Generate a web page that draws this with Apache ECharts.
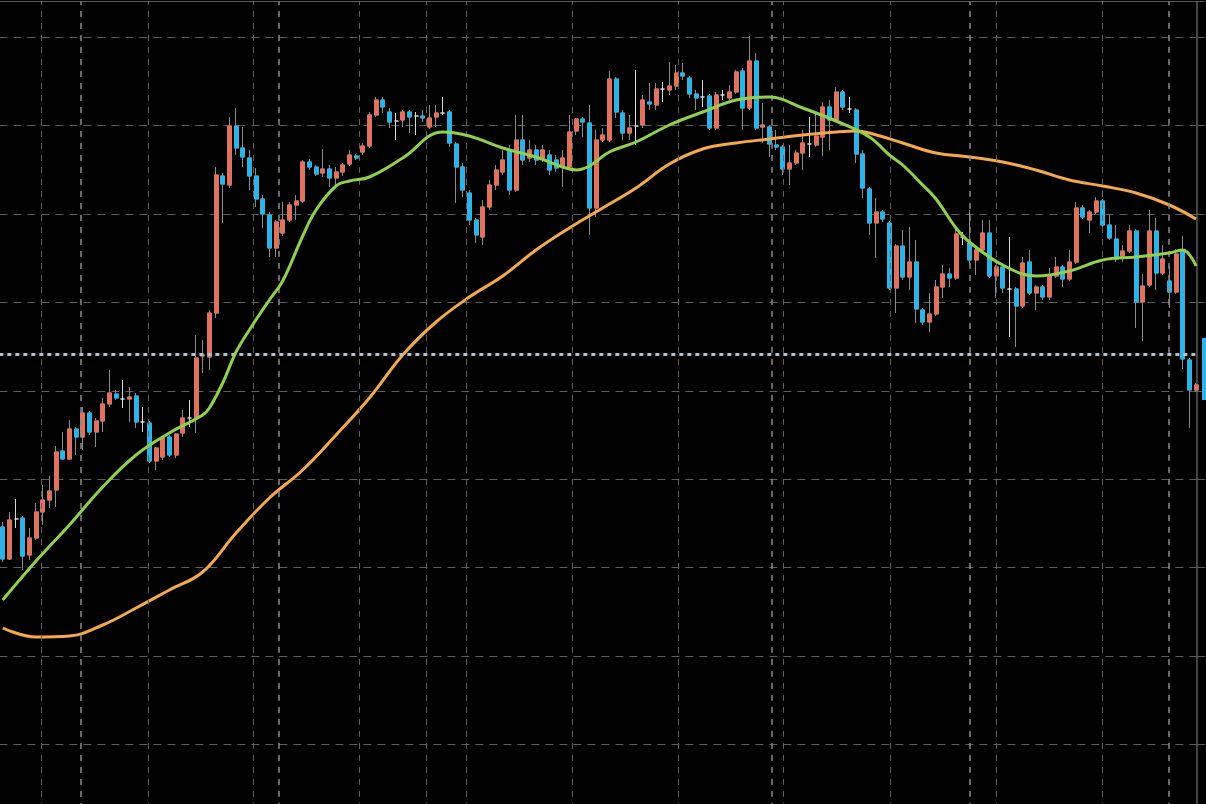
<!DOCTYPE html>
<html><head><meta charset="utf-8">
<script src="https://cdn.jsdelivr.net/npm/echarts@6/dist/echarts.min.js"></script>
<style>html,body{margin:0;padding:0;background:#000;}#c{width:1206px;height:804px;}</style>
</head><body><div id="c"></div><script>
const opens=[145.51,142.31,146.31,146.41,142.71,144.41,147.01,148.21,149.21,153.11,152.31,155.31,154.51,156.91,155.01,156.11,157.81,158.81,158.31,158.31,
158.61,156.01,155.91,152.11,152.51,154.51,152.71,154.91,156.41,156.41,162.61,162.51,166.91,180.61,179.71,185.61,183.41,182.41,180.61,178.31,
176.71,173.41,174.91,176.21,177.71,178.11,182.01,181.51,180.91,181.31,180.41,181.01,181.81,182.61,183.01,183.61,186.71,188.21,187.01,186.11,
186.21,187.01,186.61,186.61,185.51,186.51,186.91,187.01,183.81,181.51,178.91,176.21,174.51,177.51,179.71,181.01,183.21,179.21,184.21,182.41,
183.21,182.41,182.71,182.21,181.61,181.51,185.11,186.31,185.91,177.41,184.21,184.21,190.31,186.91,184.91,185.61,185.71,188.01,187.71,189.31,
189.21,189.61,190.91,190.41,188.81,188.51,188.61,185.41,188.71,188.41,189.01,191.11,187.41,192.11,185.51,185.51,183.71,183.51,181.31,181.91,
182.91,183.81,183.71,184.51,187.51,186.21,189.01,187.31,187.21,182.81,179.31,175.91,177.01,175.91,169.41,173.61,170.51,172.01,167.21,166.01,
166.81,169.51,170.81,170.41,174.51,173.91,172.21,173.21,174.91,170.61,171.51,169.31,169.31,167.61,172.01,168.91,169.51,168.51,170.61,171.51,
170.31,172.01,177.41,176.21,177.01,178.11,175.71,174.31,172.61,173.11,175.11,168.01,169.71,175.11,170.91,170.11,169.01,173.11,162.21,159.21];
const closes=[142.31,146.21,146.31,142.61,144.41,147.01,148.21,149.11,153.01,152.31,155.31,154.51,156.91,155.01,156.11,157.81,158.91,158.41,158.31,158.51,
156.01,156.01,152.11,153.41,154.41,152.71,154.81,156.41,156.41,162.41,162.71,166.91,180.71,179.81,185.61,183.41,182.51,180.61,178.31,176.81,
173.41,176.01,176.21,177.71,178.11,182.01,181.51,180.81,181.31,180.41,181.01,181.71,182.71,182.41,183.61,186.71,188.21,187.51,186.01,186.11,
187.01,186.51,186.61,186.41,186.41,186.91,186.91,183.91,181.51,179.21,176.21,174.71,177.51,179.71,181.21,182.21,179.21,184.21,182.21,183.21,
182.21,183.21,181.21,181.41,182.41,185.01,186.31,186.01,177.41,184.21,184.71,190.31,187.01,184.91,185.41,185.61,188.21,187.81,189.31,189.31,
189.61,190.91,190.61,188.81,188.41,188.51,185.41,188.71,188.71,189.01,191.01,187.41,192.11,185.41,185.71,183.81,183.51,181.31,181.91,182.91,
183.91,183.81,184.61,187.51,186.21,189.01,187.51,187.31,182.81,179.41,175.91,177.01,176.31,169.41,173.61,170.51,172.01,167.31,166.01,166.81,
169.51,170.81,170.41,174.81,174.51,172.21,173.21,174.91,170.61,171.51,169.41,169.31,167.61,171.91,168.91,169.51,168.51,170.61,171.51,170.31,
172.01,177.41,176.51,177.01,178.11,175.71,174.41,172.31,173.11,175.11,168.01,169.61,175.11,170.91,172.31,169.01,172.81,162.31,159.21,159.71];
const lows=[142.01,142.21,145.41,141.21,142.21,144.21,145.71,147.41,147.51,152.21,152.21,152.71,153.21,154.71,153.51,155.01,157.51,158.21,157.41,156.01,
155.41,155.01,151.91,151.21,152.21,152.51,152.41,154.51,155.51,154.91,160.91,161.21,166.41,175.91,179.41,182.71,181.51,179.21,177.51,175.41,
172.51,172.51,174.61,176.01,176.21,177.91,181.21,180.61,180.51,179.51,179.71,180.61,181.61,182.21,182.71,183.41,186.51,186.91,185.41,184.21,
185.51,184.91,184.71,186.01,185.31,185.51,186.71,183.51,177.91,178.51,175.71,173.91,173.71,177.21,179.21,180.71,178.71,179.01,181.71,182.01,
181.71,182.01,180.71,181.01,179.51,181.21,184.71,184.51,174.71,176.51,184.01,184.01,186.41,184.21,184.21,183.71,185.41,187.21,187.21,188.01,
188.71,189.21,190.21,188.41,187.21,187.51,185.21,185.21,188.21,188.21,188.81,185.21,187.21,185.21,183.91,182.51,183.21,180.71,179.71,181.71,
181.21,182.51,183.51,182.61,183.21,186.01,187.21,186.91,181.91,178.41,174.71,172.41,176.01,169.21,166.91,170.21,169.21,165.91,165.71,165.01,
166.61,168.41,169.51,170.21,173.71,171.71,170.71,173.01,170.41,168.41,168.91,164.51,163.51,167.41,168.71,167.21,168.21,168.21,170.41,169.51,
170.11,171.81,176.31,174.91,176.81,175.41,174.21,172.01,172.01,172.91,165.41,164.11,169.51,169.21,170.71,167.41,168.81,161.31,155.41,159.01];
const highs=[146.01,147.01,148.31,146.61,145.41,147.91,149.71,150.61,153.61,155.01,156.21,155.51,157.51,157.11,156.41,158.41,161.21,159.21,160.21,159.51,
158.91,157.51,156.11,153.51,154.51,154.71,154.91,157.21,158.21,164.71,164.21,167.21,181.51,180.91,186.51,187.41,185.51,183.21,181.41,178.71,
177.01,176.21,178.01,178.01,178.71,182.21,182.31,181.71,183.31,181.71,181.51,181.91,183.21,182.81,183.91,187.01,188.51,188.51,187.41,186.91,
187.21,187.21,187.01,187.21,187.71,187.71,188.51,187.21,184.01,181.91,179.21,176.41,178.21,180.21,181.71,183.21,183.71,186.71,186.71,184.21,
183.71,183.71,183.21,182.71,183.21,186.71,186.41,186.51,187.71,185.21,185.41,191.11,190.51,187.21,186.71,191.21,188.71,189.91,189.91,190.01,
192.01,191.71,191.91,190.61,189.21,190.21,188.81,189.01,189.21,189.71,191.21,191.41,194.61,192.91,187.91,185.71,185.21,183.71,183.71,183.21,
185.21,186.51,186.91,188.01,188.21,189.51,189.21,188.51,187.41,183.21,179.51,178.41,177.21,176.11,173.81,175.21,175.51,174.21,167.41,168.91,
170.21,171.71,171.41,175.31,175.01,177.21,173.41,176.21,176.21,171.71,171.71,174.51,169.51,172.51,173.21,169.71,169.71,171.41,172.51,171.71,
173.21,178.01,177.71,177.21,178.51,178.31,176.71,175.71,173.71,175.71,175.31,170.81,177.21,176.41,173.71,171.61,173.31,174.61,162.41,159.91];

// moving averages (candle index, value)
const maShortIdx=[0,5,10,15,20,25,30,31,33,35,37,40,42,45,47,50,52,55,60,66,70,75,80,84,86,88,91,95,100,105,110,115,120,125,130,133,135,138,140,143,145,150,155,160,165,170,175,177,179];
const maShortVal=[138.21,142.11,145.71,149.51,152.71,154.91,156.71,157.41,159.91,163.01,165.21,168.21,170.11,174.61,177.21,179.61,180.11,180.51,182.41,185.01,184.61,183.41,182.51,181.51,181.21,181.61,183.01,184.01,185.71,187.01,188.21,188.51,187.41,186.11,184.51,182.71,181.71,179.71,178.31,175.41,174.01,171.71,170.61,171.11,172.21,172.51,172.91,173.21,171.61];
const maLongIdx=[0,5,10,15,20,25,30,35,40,45,50,55,60,65,70,75,80,85,90,95,100,105,110,115,120,125,128,130,135,140,145,150,155,160,165,170,175,179];
const maLongVal=[135.41,134.51,134.61,135.71,137.41,139.21,141.01,144.91,148.41,151.21,154.71,158.41,162.71,166.01,168.51,170.61,173.21,175.41,177.41,179.41,181.81,183.31,183.91,184.31,184.71,185.01,185.11,184.91,183.91,182.91,182.51,182.01,181.21,180.21,179.61,178.91,177.71,176.31];

// vertical time grid lines (position in candle units) and which ones are major
const timeGridIdx=[5.75,11.75,21.8,37.55,41.45,53.45,63.5,69.5,85.4,101.3,115.3,117.1,133.1,145.1,149.0,164.9,174.97];
const timeGridMajor=[false,true,false,false,true,false,false,false,false,false,true,false,false,true,false,false,true];
const priceLine=162.81;
const priceTag=161.31;
const yMin=114.92, yMax=198.06, yStep=8.84;

const categories=opens.map((_,i)=>'K'+(i+1));
const UP='#e0735f', DOWN='#2db3e6';
const full=opens.map((o,i)=>[o,closes[i],lows[i],highs[i]]);
const bodies=opens.map((o,i)=>o===closes[i]?'-':[o,closes[i],Math.min(o,closes[i]),Math.max(o,closes[i])]);

const chart=echarts.init(document.getElementById('c'));
chart.setOption({
  backgroundColor:'#000',
  animation:false,
  grid:{left:-0.63,top:1.5,width:1200,height:831.4,outerBoundsMode:'none',containLabel:false},
  xAxis:[
    {type:'category',data:categories,boundaryGap:true,position:'top',
     axisLine:{show:true,onZero:false,lineStyle:{color:'#5a5a5a',width:1}},axisTick:{show:false},axisLabel:{show:false},splitLine:{show:false}},
    {type:'value',min:-0.5,max:179.5,show:false,axisLine:{onZero:false}}
  ],
  yAxis:{type:'value',position:'right',offset:-2.4,min:yMin,max:yMax,interval:yStep,
    axisLine:{show:true,onZero:false,lineStyle:{color:'#5a5a5a',width:1.5}},
    axisTick:{show:true,length:8,lineStyle:{color:'#5a5a5a'}},
    axisLabel:{show:false},
    splitLine:{show:true,lineStyle:{color:'#5e5e5e',width:1,type:[8,6]}}},
  series:[
    {type:'line',xAxisIndex:1,data:[],z:1,silent:true,
     markLine:{silent:true,symbol:['none','none'],label:{show:false},animation:false,
       data:timeGridIdx.map((v,k)=>({xAxis:v,lineStyle:timeGridMajor[k]
         ?{color:'#8a8a8a',width:1.5,type:[6,6]}
         :{color:'#626262',width:1,type:[6,6]}}))}},
    {type:'candlestick',data:full,barWidth:4.5,z:2,
     itemStyle:{color:UP,color0:DOWN,borderColor:'#8c8c8c',borderColor0:'#8c8c8c',borderColorDoji:'#d8d8d8',borderWidth:1}},
    {type:'candlestick',data:bodies,barWidth:4.5,z:3,
     itemStyle:{color:UP,color0:DOWN,borderColor:UP,borderColor0:DOWN,borderWidth:1}},
    {type:'line',data:maLongIdx.map((k,j)=>[k,maLongVal[j]]),smooth:0.4,symbol:'none',z:4,
     lineStyle:{color:'#f5a94a',width:3}},
    {type:'line',data:maShortIdx.map((k,j)=>[k,maShortVal[j]]),smooth:0.4,symbol:'none',z:5,
     lineStyle:{color:'#8fd14f',width:3}},
    {type:'line',data:[],z:6,silent:true,
     markLine:{silent:true,symbol:['none','none'],animation:false,
       data:[
         {yAxis:priceLine,lineStyle:{color:'#b0c2d2',width:3,type:[4,4]},label:{show:false}},
         {yAxis:priceTag,lineStyle:{color:'rgba(0,0,0,0)',width:0},
          label:{show:true,position:'end',distance:2.6,backgroundColor:DOWN,color:'#fff',padding:[24,8],fontSize:14,fontFamily:'Roboto',formatter:priceTag.toFixed(2)}}
       ]}}
  ]
});
</script></body></html>
